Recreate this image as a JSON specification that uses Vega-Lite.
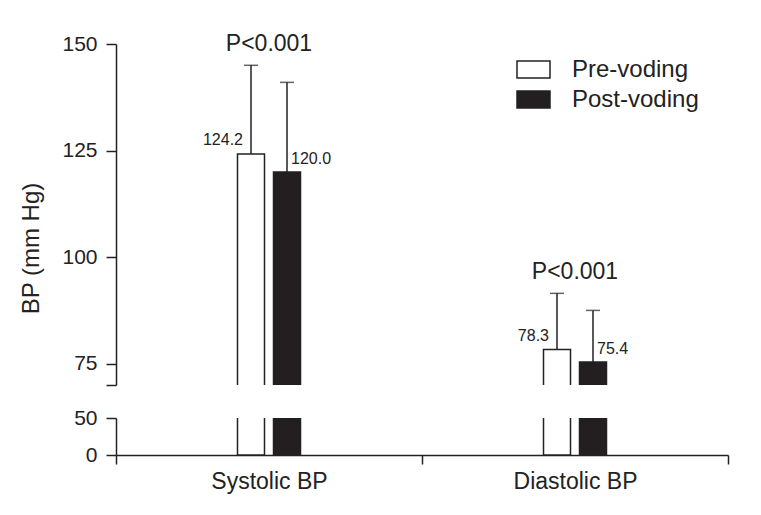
{
  "$schema": "https://vega.github.io/schema/vega-lite/v6.json",
  "padding": {"left": 19, "top": 33, "right": 9, "bottom": 10},
  "config": {
    "view": {"stroke": null},
    "font": "Liberation Sans",
    "axis": {
      "domainColor": "#222", "tickColor": "#222", "labelColor": "#222", "titleColor": "#222",
      "domainWidth": 1.5, "tickWidth": 1.5, "labelFontSize": 21, "titleFontSize": 24,
      "titleFontWeight": "normal", "grid": false, "tickSize": 10, "labelPadding": 9
    }
  },
  "datasets": {
    "bp": [
      {"group": "Systolic BP", "phase": "Pre-voding", "mean": 124.2, "upper": 145.0},
      {"group": "Systolic BP", "phase": "Post-voding", "mean": 120.0, "upper": 141.0},
      {"group": "Diastolic BP", "phase": "Pre-voding", "mean": 78.3, "upper": 91.5},
      {"group": "Diastolic BP", "phase": "Post-voding", "mean": 75.4, "upper": 87.5}
    ]
  },
  "spacing": 21,
  "resolve": {"legend": {"fill": "independent"}},
  "vconcat": [
    {
      "width": 612,
      "height": 341,
      "data": {"name": "bp"},
      "layer": [
        {
          "mark": {"type": "bar", "clip": true, "stroke": "#222", "strokeWidth": 1.5},
          "encoding": {
            "x": {"field": "group", "type": "nominal", "sort": ["Systolic BP", "Diastolic BP"], "scale": {"paddingInner": 0, "paddingOuter": 0}, "axis": null},
            "xOffset": {"field": "phase", "scale": {"domain": ["_a", "_b", "_c", "Pre-voding", "Post-voding", "_d", "_e", "_f"], "paddingInner": 0.25, "paddingOuter": 0.375}},
            "y": {"field": "mean", "type": "quantitative", "scale": {"domain": [70, 150]},
              "axis": {"values": [70, 75, 100, 125, 150], "labelExpr": "datum.value == 70 ? '' : datum.label", "title": "BP (mm Hg)", "titleY": 204, "titlePadding": 18}},
            "y2": {"datum": 0},
            "fill": {"field": "phase", "type": "nominal",
              "scale": {"domain": ["Pre-voding", "Post-voding"], "range": ["#ffffff", "#231f20"]},
              "legend": {"orient": "none", "legendX": 400, "legendY": 8, "title": null, "labelFontSize": 24, "labelColor": "#222",
                "symbolType": "M-1,-0.52H1V0.52H-1Z", "symbolSize": 1089, "symbolStrokeColor": "#222", "symbolStrokeWidth": 1.5,
                "labelOffset": 21, "rowPadding": -2}}
          }
        },
        {
          "mark": {"type": "rule", "strokeWidth": 1.5, "color": "#222"},
          "encoding": {
            "x": {"field": "group", "type": "nominal", "sort": ["Systolic BP", "Diastolic BP"]},
            "xOffset": {"field": "phase"},
            "y": {"field": "mean", "type": "quantitative"},
            "y2": {"field": "upper"}
          }
        },
        {
          "mark": {"type": "tick", "thickness": 1.5, "size": 14, "color": "#222", "orient": "horizontal"},
          "encoding": {
            "x": {"field": "group", "type": "nominal", "sort": ["Systolic BP", "Diastolic BP"]},
            "xOffset": {"field": "phase"},
            "y": {"field": "upper", "type": "quantitative"}
          }
        },
        {
          "transform": [{"filter": "datum.phase == 'Pre-voding'"}],
          "mark": {"type": "text", "align": "right", "baseline": "middle", "dx": -8, "dy": -14, "fontSize": 16, "color": "#222"},
          "encoding": {
            "x": {"field": "group", "type": "nominal", "sort": ["Systolic BP", "Diastolic BP"]},
            "xOffset": {"field": "phase"},
            "y": {"field": "mean", "type": "quantitative"},
            "text": {"field": "mean", "type": "quantitative", "format": ".1f"}
          }
        },
        {
          "transform": [{"filter": "datum.phase == 'Post-voding'"}],
          "mark": {"type": "text", "align": "left", "baseline": "middle", "dx": 4, "dy": -13, "fontSize": 16, "color": "#222"},
          "encoding": {
            "x": {"field": "group", "type": "nominal", "sort": ["Systolic BP", "Diastolic BP"]},
            "xOffset": {"field": "phase"},
            "y": {"field": "mean", "type": "quantitative"},
            "text": {"field": "mean", "type": "quantitative", "format": ".1f"}
          }
        },
        {
          "mark": {"type": "text", "align": "center", "baseline": "middle", "dy": -21, "fontSize": 23, "color": "#222"},
          "encoding": {
            "x": {"field": "group", "type": "nominal", "sort": ["Systolic BP", "Diastolic BP"]},
            "y": {"aggregate": "max", "field": "upper", "type": "quantitative"},
            "text": {"value": "P<0.001"}
          }
        }
      ]
    },
    {
      "width": 612,
      "height": 37,
      "data": {"name": "bp"},
      "mark": {"type": "bar", "clip": true, "stroke": "#222", "strokeWidth": 1.5},
      "encoding": {
        "x": {"field": "group", "type": "nominal", "sort": ["Systolic BP", "Diastolic BP"], "scale": {"paddingInner": 0, "paddingOuter": 0},
          "axis": {"title": null, "labelAngle": 0, "tickBand": "extent", "labelFontSize": 23, "labelPadding": 6, "tickSize": 9}},
        "xOffset": {"field": "phase", "scale": {"domain": ["_a", "_b", "_c", "Pre-voding", "Post-voding", "_d", "_e", "_f"], "paddingInner": 0.25, "paddingOuter": 0.375}},
        "y": {"field": "mean", "type": "quantitative", "scale": {"domain": [0, 50]}, "axis": {"values": [0, 50], "title": null}},
        "y2": {"datum": 0},
        "fill": {"field": "phase", "type": "nominal",
          "scale": {"domain": ["Pre-voding", "Post-voding"], "range": ["#ffffff", "#231f20"]}, "legend": null}
      }
    }
  ]
}
